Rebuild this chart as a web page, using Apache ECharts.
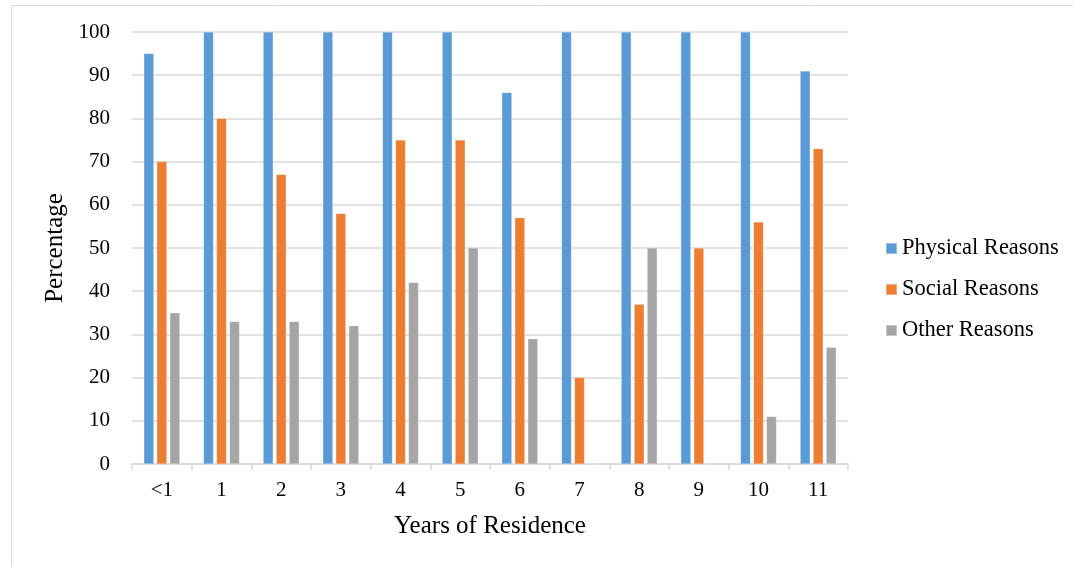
<!DOCTYPE html>
<html><head><meta charset="utf-8">
<script src="https://cdn.jsdelivr.net/npm/echarts@6/dist/echarts.min.js"></script>
<style>html,body{margin:0;padding:0;background:#fff;}#c{width:1073px;height:567px;}</style>
</head><body><div id="c"></div>
<script>
const categories = ['<1','1','2','3','4','5','6','7','8','9','10','11'];
const physical = [95,100,100,100,100,100,86,100,100,100,100,91];
const social = [70,80,67,58,75,75,57,20,37,50,56,73];
const other = [35,33,33,32,42,50,29,0,50,0,11,27];
const seriesNames = ['Physical Reasons','Social Reasons','Other Reasons'];
const colors = ['#5B9BD5','#ED7D31','#A5A5A5'];
const font = '"Liberation Serif", "Times New Roman", serif';
const chart = echarts.init(document.getElementById('c'));
const mk = (name, data, color) => ({
  name, type: 'bar', data, barWidth: 10, barGap: '30%',
  itemStyle: {color, borderColor: 'rgba(255,255,255,0.35)', borderWidth: 0.5},
  animation: false
});
chart.setOption({
  animation: false,
  textStyle: {fontFamily: font},
  graphic: [{type: 'rect', shape: {x: 11.5, y: 5.5, width: 1200, height: 700},
    style: {fill: 'none', stroke: '#D9D9D9', lineWidth: 1}, silent: true}],
  grid: {left: 132, right: 225, top: 32, bottom: 103},
  legend: {
    orient: 'vertical', left: 885, top: 237, padding: 0, itemWidth: 11, itemHeight: 11, itemGap: 18,
    icon: 'rect', data: seriesNames,
    textStyle: {fontFamily: font, fontSize: 22.5, color: '#000', lineHeight: 22, padding: [0,0,0,0]}
  },
  xAxis: {
    type: 'category', data: categories, boundaryGap: true,
    name: 'Years of Residence', nameLocation: 'middle', nameGap: 50,
    nameTextStyle: {fontFamily: font, fontSize: 25, color: '#000'},
    axisLine: {lineStyle: {color: '#D9D9D9', width: 1.5}},
    axisTick: {show: true, length: 6, lineStyle: {color: '#D9D9D9', width: 1.5}},
    axisLabel: {fontFamily: font, fontSize: 21, color: '#000', margin: 16}
  },
  yAxis: {
    type: 'value', min: 0, max: 100, interval: 10,
    name: 'Percentage', nameLocation: 'middle', nameGap: 58,
    nameTextStyle: {fontFamily: font, fontSize: 25, color: '#000'},
    axisLine: {show: false}, axisTick: {show: false},
    splitLine: {lineStyle: {color: '#D9D9D9', width: 1.5}},
    axisLabel: {fontFamily: font, fontSize: 21, color: '#000', margin: 22}
  },
  series: [mk(seriesNames[0], physical, colors[0]), mk(seriesNames[1], social, colors[1]), mk(seriesNames[2], other, colors[2])]
});
</script></body></html>
